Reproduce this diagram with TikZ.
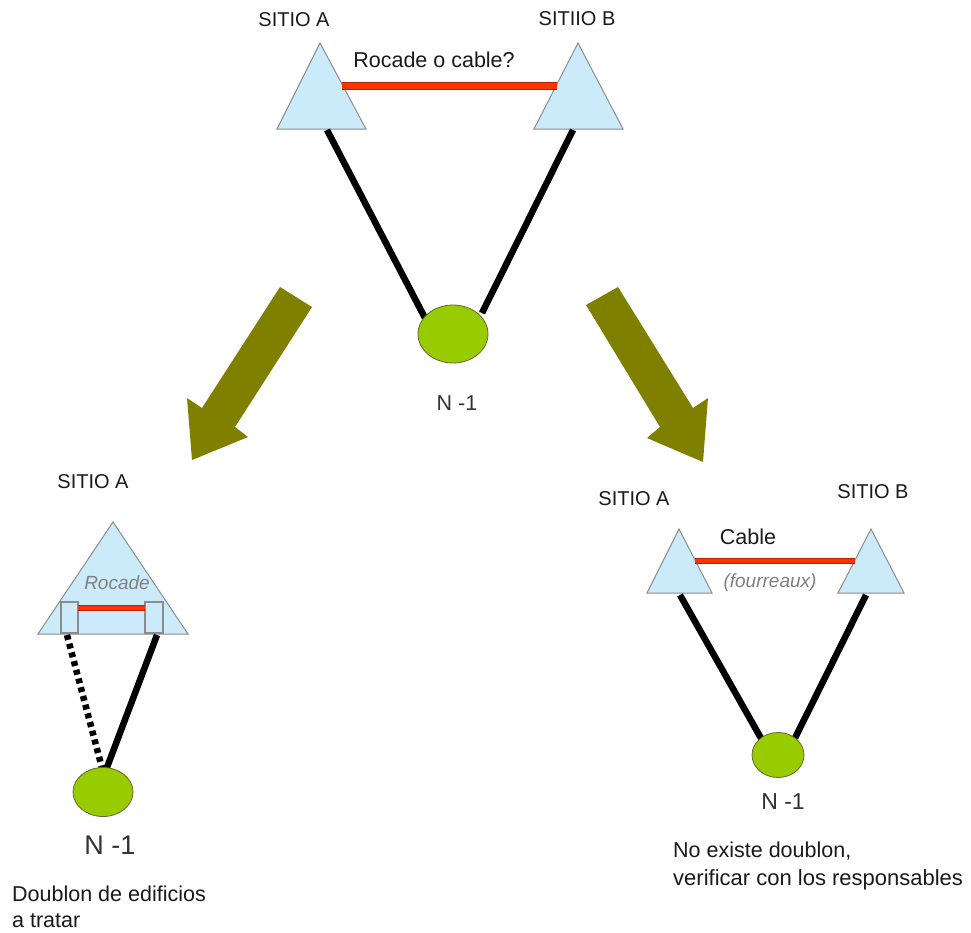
\documentclass[tikz,border=0pt]{standalone}
\usepackage{fontspec}
\setmainfont{Liberation Sans}
\usetikzlibrary{shapes.geometric}
\definecolor{tri}{HTML}{CCEBFA}
\definecolor{triedge}{HTML}{8C8C8C}
\definecolor{grn}{HTML}{99CC00}
\definecolor{grnedge}{HTML}{5E6B2A}
\definecolor{olv}{HTML}{808000}
\definecolor{rl}{HTML}{FF3300}
\definecolor{rldark}{HTML}{B82200}
\definecolor{txt}{HTML}{1A1A1A}
\definecolor{ntxt}{HTML}{333333}
\begin{document}
\begin{tikzpicture}[x=1pt,y=-1pt,
  site/.style={fill=tri,draw=triedge,line width=1pt,line join=miter},
  port/.style={fill=tri,draw=triedge,line width=1.2pt},
  dev/.style={ellipse,fill=grn,draw=grnedge,line width=0.8pt,inner sep=0pt},
  link/.style={line width=6.5pt,black},
  dotlink/.style={line width=6.5pt,black,dash pattern=on 5pt off 4pt},
  cableout/.style={line width=8pt,rldark},
  cablein/.style={line width=5.6pt,rl},
  bigarrow/.style={fill=olv},
  lbl/.style={font=\fontsize{20}{24}\selectfont,text=txt,inner sep=0pt},
  txtl/.style={font=\fontsize{21.5}{25}\selectfont,text=txt,inner sep=0pt},
  nlbl/.style={font=\fontsize{21.5}{25}\selectfont,text=ntxt,inner sep=0pt},
  note/.style={font=\fontsize{19}{23}\selectfont\itshape,text=gray,inner sep=0pt},
]
\useasboundingbox (0,0) rectangle (971,932);
\fill[white] (0,0) rectangle (971,932);

% ---------- top ----------
\coordinate (TAt) at (320,43); \coordinate (TAl) at (277,129); \coordinate (TAr) at (366,129);
\coordinate (TBt) at (578,43); \coordinate (TBl) at (534,129); \coordinate (TBr) at (623,129);
\draw[site] (TAt) -- (TAl) -- (TAr) -- cycle;
\draw[site] (TBt) -- (TBl) -- (TBr) -- cycle;
\coordinate (TcA) at (342,86); \coordinate (TcB) at (557,86);
\draw[cableout] (TcA) -- (TcB);
\draw[cablein] (TcA) -- (TcB);
\node[txtl] (tq) at (434,60) {Rocade o cable?};
\node[lbl] (tsa) at (294,20) {SITIO A};
\node[lbl] (tsb) at (577,19) {SITIIO B};
\coordinate (TlA) at (327,130); \coordinate (TlAe) at (425,318);
\coordinate (TlB) at (573,130); \coordinate (TlBe) at (482,313);
\draw[link] (TlA) -- (TlAe);
\draw[link] (TlB) -- (TlBe);
\node[dev,minimum width=70pt,minimum height=58pt] (E1) at (453,334) {};
\node[nlbl] (n1) at (457,403) {N -1};

% ---------- arrows ----------
\fill[bigarrow] (280,287) -- (312,307) -- (235,427) -- (248,437) -- (192,460) -- (187,398) -- (202,408) -- cycle;
\fill[bigarrow] (586,305) -- (618,287) -- (693,408) -- (708,398) -- (703,462) -- (647,438) -- (660,427) -- cycle;

% ---------- bottom left ----------
\node[lbl] (lsa) at (93,482) {SITIO A};
\draw[site] (113,522) -- (38,634) -- (188,634) -- cycle;
\node[note] (lroc) at (117,583) {Rocade};
\draw[port] (61,602) rectangle (78,633);
\draw[port] (145,602) rectangle (163,633);
\coordinate (LcA) at (78,608); \coordinate (LcB) at (145,608);
\draw[line width=5.5pt,rldark] (LcA) -- (LcB);
\draw[line width=3.5pt,rl] (LcA) -- (LcB);
\coordinate (LlA) at (67,635); \coordinate (LlAe) at (102,768);
\coordinate (LlB) at (157,635); \coordinate (LlBe) at (106,770);
\draw[dotlink] (LlA) -- (LlAe);
\draw[link] (LlB) -- (LlBe);
\node[dev,minimum width=60pt,minimum height=49pt] (E2) at (103,792) {};
\node[font=\fontsize{27}{32}\selectfont,text=ntxt,inner sep=0pt] (n2) at (110,845) {N -1};
\node[txtl,anchor=base west] (d1) at (12,901) {Doublon de edificios};
\node[txtl,anchor=base west] (d2) at (12,927) {a tratar};

% ---------- bottom right ----------
\node[lbl] (rsa) at (634,499) {SITIO A};
\node[lbl] (rsb) at (873,492) {SITIO B};
\draw[site] (679,529) -- (647,593) -- (712,593) -- cycle;
\draw[site] (871,529) -- (838,593) -- (904,593) -- cycle;
\coordinate (RcA) at (695,561); \coordinate (RcB) at (855,561);
\draw[line width=6.5pt,rldark] (RcA) -- (RcB);
\draw[line width=4.2pt,rl] (RcA) -- (RcB);
\node[txtl] (rcab) at (748,537) {Cable};
\node[note] (rfou) at (770,583) {(fourreaux)};
\coordinate (RlA) at (680,595); \coordinate (RlAe) at (762,740);
\coordinate (RlB) at (866,595); \coordinate (RlBe) at (795,738);
\draw[link] (RlA) -- (RlAe);
\draw[link] (RlB) -- (RlBe);
\node[dev,minimum width=52pt,minimum height=45pt] (E3) at (778,755) {};
\node[nlbl,font=\fontsize{23}{27}\selectfont] (n3) at (783,802) {N -1};
\node[txtl,anchor=base west] (r1) at (673,857) {No existe doublon,};
\node[txtl,font=\fontsize{22}{26}\selectfont,anchor=base west] (r2) at (673,885) {verificar con los responsables};
\end{tikzpicture}
\end{document}
